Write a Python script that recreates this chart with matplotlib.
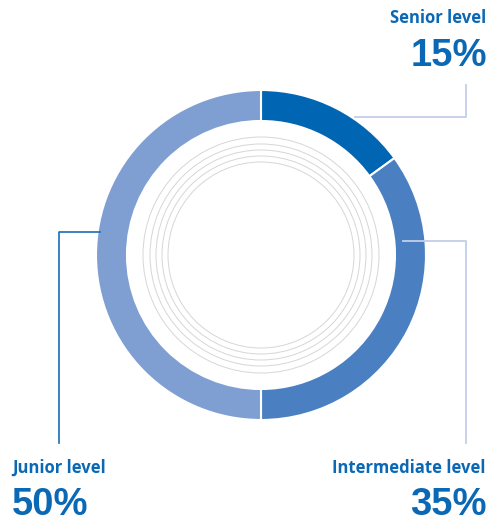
import matplotlib.pyplot as plt
from matplotlib.patches import Circle

# data
labels = ['Senior level', 'Intermediate level', 'Junior level']
shares = [15, 35, 50]
colors = ['#0066b3', '#4a80c2', '#7f9fd3']
pct_labels = [f'{s}%' for s in shares]

W, H = 493, 523
fig = plt.figure(figsize=(W / 100, H / 100), dpi=100)
ax = fig.add_axes([0, 0, 1, 1])
ax.set_xlim(0, W)
ax.set_ylim(0, H)
ax.set_aspect('equal')
ax.axis('off')

cx, cy = 261, H - 255
r_out = 165
ax.pie(shares, colors=colors, startangle=90, counterclock=False,
       center=(cx, cy), radius=r_out,
       wedgeprops=dict(width=31, edgecolor='white', linewidth=1.5))
ax.set_xlim(0, W)
ax.set_ylim(0, H)

# decorative inner rings
for r in [118, 111, 105, 99, 93]:
  ax.add_patch(Circle((cx, cy), r, fill=False, edgecolor='#d6d6d6', linewidth=0.7))

txt_col = '#0b68b4'
light = '#c3cfe9'
fs_lab = 12
fs_pct = 27.5

def y(v):
  return H - v

# leader lines
ax.plot([355, 466, 466], [y(117), y(117), y(85)], color=light, lw=1.3)
ax.plot([403, 466, 466], [y(241), y(241), y(443)], color=light, lw=1.3)
ax.plot([100, 59, 59], [y(232), y(232), y(443)], color='#1a6cb6', lw=1.2)

# labels
ax.text(486, y(18), labels[0], ha='right', va='center', fontsize=fs_lab,
        fontweight='bold', color=txt_col, family='Open Sans')
ax.text(487, y(56), pct_labels[0], ha='right', va='center', fontsize=fs_pct,
        fontweight='bold', color=txt_col, family='Liberation Sans')
ax.text(486, y(468), labels[1], ha='right', va='center', fontsize=fs_lab,
        fontweight='bold', color=txt_col, family='Open Sans')
ax.text(487, y(505), pct_labels[1], ha='right', va='center', fontsize=fs_pct,
        fontweight='bold', color=txt_col, family='Liberation Sans')
ax.text(12, y(468), labels[2], ha='left', va='center', fontsize=fs_lab,
        fontweight='bold', color=txt_col, family='Open Sans')
ax.text(12, y(505), pct_labels[2], ha='left', va='center', fontsize=fs_pct,
        fontweight='bold', color=txt_col, family='Liberation Sans')

fig.savefig('out.png', dpi=100, facecolor='white')
